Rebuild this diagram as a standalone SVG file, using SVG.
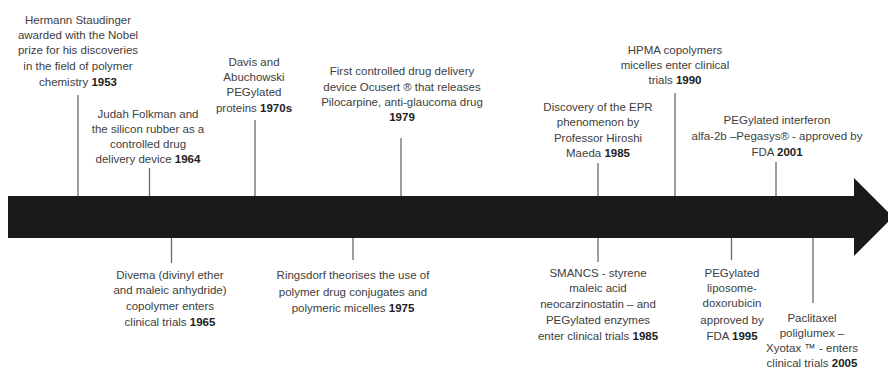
<svg xmlns="http://www.w3.org/2000/svg" width="888" height="369" viewBox="0 0 888 369">
<style>
text{font-family:"Liberation Sans",Arial,sans-serif;font-size:11.5px;fill:#404040;text-anchor:middle}
.y{font-weight:bold;fill:#222}
.tick{stroke:#6a6a6a;stroke-width:1.3;fill:none}
</style>
<rect width="888" height="369" fill="#fff"/>
<g id="timeline-arrow">
<polygon points="8,196 854,196 854,178 893,217 854,256 854,238 8,238" fill="#1a1a1a"/>
</g>
<g id="connectors">
<line class="tick" x1="78" y1="95" x2="78" y2="196"/>
<line class="tick" x1="149.5" y1="168" x2="149.5" y2="196"/>
<line class="tick" x1="255" y1="120" x2="255" y2="196"/>
<line class="tick" x1="401" y1="138" x2="401" y2="196"/>
<line class="tick" x1="598" y1="163" x2="598" y2="196"/>
<line class="tick" x1="675" y1="93" x2="675" y2="196"/>
<line class="tick" x1="776" y1="162" x2="776" y2="196"/>
<line class="tick" x1="171.5" y1="238" x2="171.5" y2="263"/>
<line class="tick" x1="353" y1="238" x2="353" y2="260"/>
<line class="tick" x1="598" y1="238" x2="598" y2="262"/>
<line class="tick" x1="731.5" y1="238" x2="731.5" y2="260"/>
<line class="tick" x1="813" y1="238" x2="813" y2="303"/>
</g>
<g id="n1953">
<text x="78" y="24">Hermann Staudinger</text>
<text x="78" y="39">awarded with the Nobel</text>
<text x="78" y="54">prize for his discoveries</text>
<text x="78" y="70">in the field of polymer</text>
<text x="78" y="86">chemistry <tspan class="y">1953</tspan></text>
</g>
<g id="n1964">
<text x="148" y="118">Judah Folkman and</text>
<text x="148" y="133">the silicon rubber as a</text>
<text x="148" y="148">controlled drug</text>
<text x="148" y="163">delivery device <tspan class="y">1964</tspan></text>
</g>
<g id="n1970s">
<text x="254" y="66">Davis and</text>
<text x="254" y="81">Abuchowski</text>
<text x="254" y="96">PEGylated</text>
<text x="254" y="112">proteins <tspan class="y">1970s</tspan></text>
</g>
<g id="n1979">
<text x="402" y="75">First controlled drug delivery</text>
<text x="402" y="91">device Ocusert ® that releases</text>
<text x="402" y="106">Pilocarpine, anti-glaucoma drug</text>
<text x="402" y="121" class="y">1979</text>
</g>
<g id="n1985epr">
<text x="598" y="111">Discovery of the EPR</text>
<text x="598" y="126">phenomenon  by</text>
<text x="598" y="142">Professor Hiroshi</text>
<text x="598" y="157">Maeda <tspan class="y">1985</tspan></text>
</g>
<g id="n1990">
<text x="675" y="54">HPMA copolymers</text>
<text x="675" y="69">micelles enter clinical</text>
<text x="675" y="84">trials <tspan class="y">1990</tspan></text>
</g>
<g id="n2001">
<text x="777" y="124">PEGylated interferon</text>
<text x="777" y="140">alfa-2b –Pegasys® - approved by</text>
<text x="777" y="156">FDA <tspan class="y">2001</tspan></text>
</g>
<g id="n1965">
<text x="170" y="279">Divema (divinyl ether</text>
<text x="170" y="294">and maleic anhydride)</text>
<text x="170" y="310">copolymer  enters</text>
<text x="170" y="326">clinical trials <tspan class="y">1965</tspan></text>
</g>
<g id="n1975">
<text x="353" y="279">Ringsdorf theorises the use of</text>
<text x="353" y="296">polymer drug conjugates and</text>
<text x="353" y="312">polymeric micelles <tspan class="y">1975</tspan></text>
</g>
<g id="n1985smancs">
<text x="598" y="277">SMANCS - styrene</text>
<text x="598" y="292">maleic acid</text>
<text x="598" y="308">neocarzinostatin – and</text>
<text x="598" y="324">PEGylated enzymes</text>
<text x="598" y="340">enter clinical trials <tspan class="y">1985</tspan></text>
</g>
<g id="n1995">
<text x="732" y="277">PEGylated</text>
<text x="732" y="292">liposome-</text>
<text x="732" y="307">doxorubicin</text>
<text x="732" y="324">approved by</text>
<text x="732" y="340">FDA <tspan class="y">1995</tspan></text>
</g>
<g id="n2005">
<text x="812" y="322">Paclitaxel</text>
<text x="812" y="337">poliglumex –</text>
<text x="812" y="352">Xyotax ™ - enters</text>
<text x="812" y="367">clinical trials <tspan class="y">2005</tspan></text>
</g>
</svg>
